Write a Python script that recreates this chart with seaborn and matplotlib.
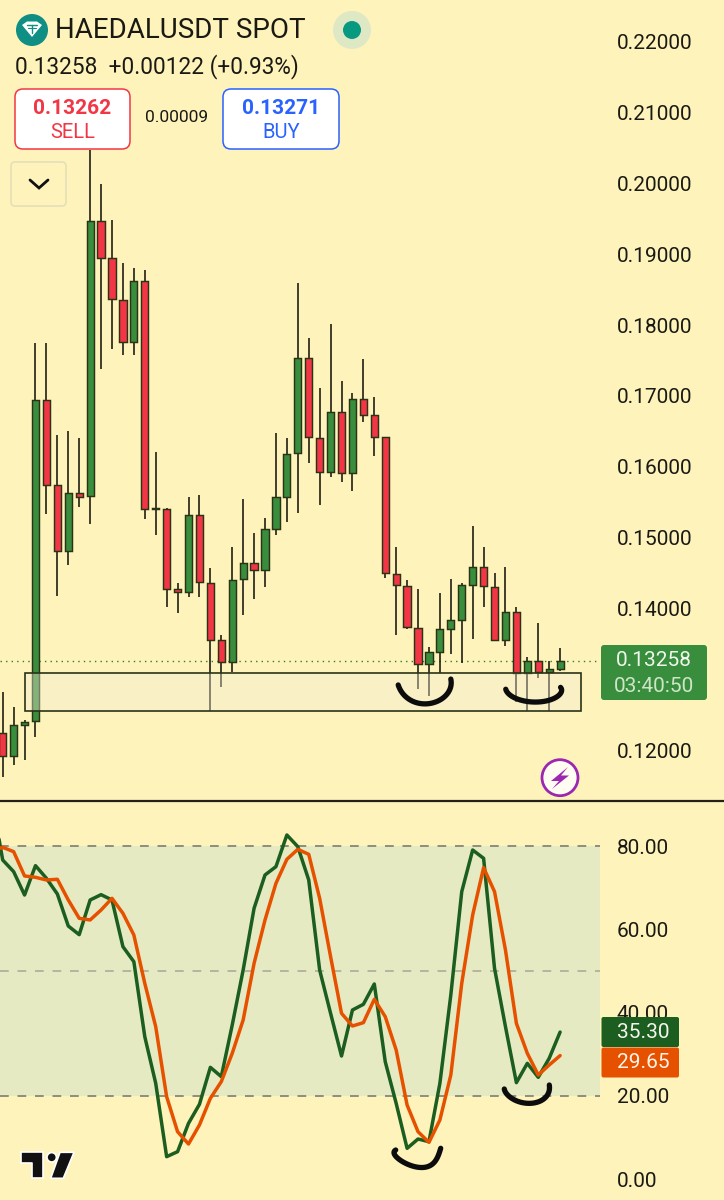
import numpy as np
import pandas as pd
import matplotlib
matplotlib.use("Agg")
import matplotlib.pyplot as plt
import seaborn as sns
from matplotlib.patches import FancyBboxPatch, Circle, Polygon, Rectangle

# ---------------------------------------------------------
# Data
# ---------------------------------------------------------
opens = [.12236, .11915, .12353, .12405, .16943, .15739, .14806, .15634, .15587, .19472, .18949, .18356, .17758,
         .18628, .15418, .15404, .14274, .14232, .15323, .14363, .13554, .13247, .14411, .14641, .14538, .15126,
         .15578, .16190, .17537, .16411, .15926, .16770, .15908, .16953, .16727, .16417, .14490, .14316, .13727,
         .13219, .13384, .13713, .13840, .14330, .14585, .14306, .13558, .13949, .13083, .13257, .13102, .13140]
highs = [.12819, .12603, .12424, .17748, .17748, .16449, .16510, .16402, .20474, .19994, .19486, .18874, .18804,
         .18780, .16205, .15418, .14354, .15569, .15602, .14575, .13620, .14863, .15545, .15069, .15273, .16473,
         .16411, .18592, .17823, .17109, .18013, .17216, .17047, .17518, .16982, .16417, .14863, .14397, .14278,
         .13459, .14213, .14411, .14363, .15164, .14863, .14496, .14580, .14016, .13318, .13789, .13261, .13441]
lows = [.11619, .11784, .11859, .12179, .15333, .14179, .14613, .15436, .15192, .17386, .17660, .17575, .17575,
        .15263, .15037, .14024, .13931, .14157, .14165, .12555, .12886, .13106, .13911, .14137, .14306, .15037,
        .15216, .15343, .16049, .15460, .15860, .15785, .15662, .16637, .16157, .14434, .13624, .13713, .12866,
        .12763, .13083, .13352, .13225, .13564, .14024, .13544, .13473, .12678, .12547, .13013, .12547, .13120]
closes = [.11915, .12349, .12395, .16943, .15743, .14806, .15634, .15578, .19472, .18953, .18366, .17758, .18628,
          .15408, .15404, .14278, .14227, .15323, .14373, .13558, .13247, .14405, .14641, .14538, .15121, .15578,
          .16185, .17537, .16417, .15926, .16770, .15908, .16953, .16727, .16425, .14496, .14326, .13733, .13219,
          .13380, .13713, .13836, .14330, .14585, .14316, .13558, .13949, .13083, .13257, .13106, .13140, .13258]

stoch_k = [91.45, 76.64, 73.84, 68.23, 75.28, 72.24, 68.47, 60.78, 58.70, 67.03, 68.31, 67.03, 55.82, 52.21,
           34.20, 22.99, 5.37, 6.57, 13.38, 17.94, 26.83, 24.59, 36.99, 50.21, 65.03, 73.04, 75.04, 82.65, 79.84,
           71.84, 50.21, 39.80, 29.55, 40.60, 41.97, 46.85, 28.19, 18.18, 7.37, 9.61, 8.97, 22.99, 44.21, 69.03,
           79.04, 77.04, 50.61, 36.60, 23.15, 27.79, 24.43, 28.99, 35.30]
stoch_d = [78.80, 79.68, 78.64, 72.80, 72.48, 71.84, 72.00, 67.03, 62.63, 62.23, 64.63, 67.43, 63.83, 58.62,
           47.01, 36.60, 19.78, 11.37, 8.41, 12.98, 19.38, 23.39, 30.19, 38.20, 51.81, 62.23, 71.03, 76.80, 79.20,
           78.00, 67.43, 53.42, 39.80, 36.76, 37.56, 43.17, 39.00, 30.99, 17.78, 11.37, 8.81, 14.18, 24.99, 47.01,
           63.43, 74.80, 69.03, 55.02, 37.40, 30.19, 24.99, 27.39, 29.65]

# 0.13000 sits behind the last price label in the original, so it is left out
price_ticks = [.12, .14, .15, .16, .17, .18, .19, .20, .21, .22]
stoch_ticks = [0, 20, 40, 60, 80]
zone_low, zone_high = .12551, .13087
last_price = .13258

BG = "#FFF3BC"
GREEN = "#388E3C"
RED = "#F23645"
DARK = "#2A3316"
TEXT = "#1A1A14"

sns.set_theme(style="white")
plt.rcParams["font.family"] = ["Roboto", "DejaVu Sans"]

W, H = 724, 1200
fig = plt.figure(figsize=(W / 100, H / 100), dpi=100, facecolor=BG)

# ---------------------------------------------------------
# Candles
# ---------------------------------------------------------
df = pd.DataFrame({"open": opens, "high": highs, "low": lows, "close": closes})
df["idx"] = np.arange(len(df))
df["bottom"] = df[["open", "close"]].min(axis=1)
df["height"] = (df["open"] - df["close"]).abs()

ax = fig.add_axes([0, 400 / H, 600 / W, 800 / H], facecolor=BG)
ax.axhline(last_price, color="#2E7D32", lw=1, ls=(0, (1, 3)), zorder=1)
ax.vlines(df["idx"], df["low"], df["high"], color="#16160C", lw=1.15, zorder=2)

up = df[df["close"] >= df["open"]]
down = df[df["close"] < df["open"]]
for part, col in [(up, GREEN), (down, RED)]:
    sns.barplot(x=part["idx"].values, y=part["height"].values, bottom=part["bottom"].values, native_scale=True,
                color=col, saturation=1, width=0.66, edgecolor=DARK, linewidth=1.05, errorbar=None, ax=ax, zorder=3)

# support zone
ax.add_patch(Rectangle((2, zone_low), 50.9, zone_high - zone_low, facecolor="#F2ECD6", alpha=0.4, edgecolor="none", zorder=4))
ax.add_patch(Rectangle((2, zone_low), 50.9, zone_high - zone_low, fill=False, edgecolor=DARK, lw=1.2, zorder=5))

ax.set_xlim(-0.247, 54.65)
ax.set_ylim(.11294, .22593)
ax.set_xlabel("")
ax.set_ylabel("")
ax.set_xticks([])
ax.set_yticks(price_ticks)
ax.set_yticklabels([f"{t:.5f}" for t in price_ticks])
ax.yaxis.tick_right()
ax.tick_params(axis="y", length=0, pad=12.2, labelsize=15, labelcolor=TEXT)
sns.despine(ax=ax, left=True, right=True, top=True, bottom=True)

# ---------------------------------------------------------
# Stochastic panel
# ---------------------------------------------------------
ax2 = fig.add_axes([0, 0, 600 / W, 397 / H], facecolor=BG)
stoch = pd.DataFrame({"idx": np.arange(-1, 52), "k": stoch_k, "d": stoch_d})
ax2.axhspan(20, 80, color="#E6EAC3", lw=0, zorder=1)
for lev, c in [(80, "#8E8E7E"), (50, "#B5B5A0"), (20, "#8E8E7E")]:
    ax2.axhline(lev, color=c, lw=1.4, ls=(0, (4.5, 4.5)), zorder=2)
sns.lineplot(data=stoch, x="idx", y="k", color="#1B5E20", lw=2.5, ax=ax2, zorder=3)
sns.lineplot(data=stoch, x="idx", y="d", color="#E65100", lw=2.5, ax=ax2, zorder=4)
ax2.set_xlim(-0.247, 54.65)
ax2.set_ylim(-5.04, 90.33)
ax2.set_xlabel("")
ax2.set_ylabel("")
ax2.set_xticks([])
ax2.set_yticks(stoch_ticks)
ax2.set_yticklabels([f"{t:.2f}" for t in stoch_ticks])
ax2.yaxis.tick_right()
ax2.tick_params(axis="y", length=0, pad=12.2, labelsize=15, labelcolor=TEXT)
sns.despine(ax=ax2, left=True, right=True, top=True, bottom=True)

# ---------------------------------------------------------
# Overlay in pixel coordinates: header, buttons, labels, scribbles
# ---------------------------------------------------------
ov = fig.add_axes([0, 0, 1, 1], facecolor="none", zorder=10)
ov.set_xlim(0, W)
ov.set_ylim(H, 0)
ov.axis("off")


def box(x0, y0, x1, y1, fc, ec="none", lw=1.1, r=8, **kw):
    ov.add_patch(FancyBboxPatch((x0 + r, y0 + r), x1 - x0 - 2 * r, y1 - y0 - 2 * r, boxstyle=f"round,pad={r},rounding_size={r}",
                                facecolor=fc, edgecolor=ec, lw=lw, **kw))


ov.plot([0, W], [801, 801], color="#22221A", lw=1.6)

# header
ov.add_patch(Circle((32, 30), 16, color="#0F8F84", lw=0))
ov.add_patch(Polygon([(22, 25), (27, 21.5), (37, 21.5), (42, 25), (32, 37)], color="white", lw=0))
ov.plot([27, 37], [25, 25], color="#0F8F84", lw=1)
ov.plot([32, 32], [25, 33], color="#0F8F84", lw=1)
ov.plot([28, 36], [28, 28], color="#0F8F84", lw=0.8)
ov.text(55, 30, "HAEDALUSDT SPOT", fontsize=20, color=TEXT, va="center", ha="left")
ov.add_patch(Circle((352, 30), 19, color="#DFE8C4", lw=0))
ov.add_patch(Circle((352, 30), 9, color="#089981", lw=0))
ov.text(15, 67, "0.13258  +0.00122 (+0.93%)", fontsize=16.3, color=TEXT, va="center", ha="left")

# sell / buy
box(15, 89, 130, 149, "white", RED)
box(223, 89, 339, 149, "white", "#2962FF")
ov.text(72.5, 108, "0.13262", fontsize=15, color=RED, weight="bold", ha="center", va="center")
ov.text(72.5, 132, "SELL", fontsize=14.5, color=RED, ha="center", va="center")
ov.text(281, 108, "0.13271", fontsize=15, color="#2962FF", weight="bold", ha="center", va="center")
ov.text(281, 132, "BUY", fontsize=14.5, color="#2962FF", ha="center", va="center")
ov.text(176.5, 118, "0.00009", fontsize=12.5, color=TEXT, ha="center", va="center")

# collapse button
box(11, 162, 66, 206, BG, "#E3DDB8", r=4)
ov.plot([30, 39, 48], [180, 188, 180], color="#111111", lw=2, solid_capstyle="round", solid_joinstyle="miter")

# last price label
box(601, 645, 707, 700, GREEN, r=3)
ov.text(654, 661, "0.13258", fontsize=15, color="#F1F6EC", ha="center", va="center")
ov.text(654, 686, "03:40:50", fontsize=15, color="#CFE5C8", ha="center", va="center")

# stochastic value labels
box(601.5, 1017, 679, 1047, "#1B5E20", r=2)
box(601.5, 1047.5, 679, 1077.5, "#E65100", r=2)
ov.text(617, 1032.5, "35.30", fontsize=15, color="#F4F4EC", ha="left", va="center")
ov.text(617, 1063, "29.65", fontsize=15, color="#FFF3E8", ha="left", va="center")

# lightning button
ov.add_patch(Circle((560, 777.7), 18, facecolor="#FFFDF2", edgecolor="#9C27B0", lw=2))
ov.add_patch(Polygon([(568, 767), (551, 781), (559, 781), (552, 789), (569, 775.5), (561, 775.5)], color="#9C27B0", lw=0))

# hand drawn smiles, smoothed a bit so they look like pen strokes
smiles = [
    [(398, 685), (405, 695), (413, 702), (427, 704), (440, 700), (448, 692), (451, 679)],
    [(505.7, 689.3), (513, 696.7), (526.7, 701.7), (540, 701.7), (555, 698.3), (560, 693.3), (560.7, 687.3)],
    [(395.7, 1150), (400, 1160), (418.3, 1167.3), (433.3, 1163.3), (440.7, 1148.3)],
    [(504.3, 1089), (511.7, 1098.3), (527.3, 1103.3), (543.3, 1099.3), (549.3, 1085)],
]
for s in smiles:
    xs, ys = zip(*s)
    t = np.linspace(0, 1, len(xs))
    tt = np.linspace(0, 1, 40)
    deg = min(4, len(xs) - 1)
    ov.plot(np.polyval(np.polyfit(t, xs, deg), tt), np.polyval(np.polyfit(t, ys, deg), tt),
            color="#0C0C0C", lw=3.8, solid_capstyle="round", solid_joinstyle="round")

# tradingview logo
logo = dict(facecolor="#111111", edgecolor="white", lw=1.2, joinstyle="round")
ov.add_patch(Polygon([(20.7, 1152.3), (43.3, 1152.3), (43.3, 1178.3), (31.7, 1178.3), (31.7, 1163.3), (20.7, 1163.3)], **logo))
ov.add_patch(Polygon([(60, 1152.3), (74, 1152.3), (63.3, 1178.3), (50.7, 1178.3)], **logo))
ov.add_patch(Circle((51.7, 1157.3), 4.7, facecolor="#111111", edgecolor="white", lw=1.2))

fig.savefig("out.png", dpi=100, facecolor=BG)
